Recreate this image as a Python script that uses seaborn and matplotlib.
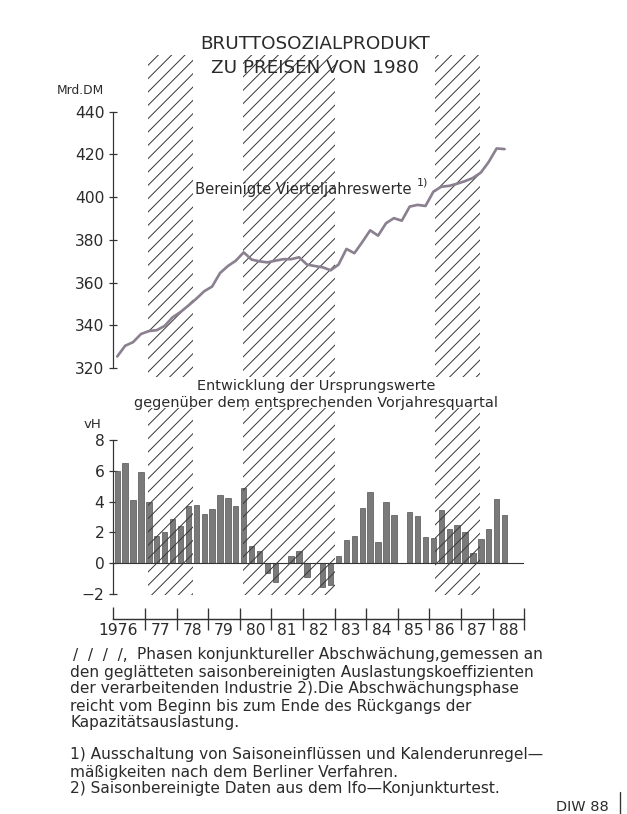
import matplotlib
matplotlib.use("Agg")
import matplotlib.pyplot as plt
from matplotlib.lines import Line2D
import matplotlib.lines as mlines
import pandas as pd
import seaborn as sns

# ---------------- data ----------------
years = list(range(1976, 1989))
year_labels = ["1976", "77", "78", "79", "80", "81", "82", "83", "84", "85", "86", "87", "88"]

# Bruttosozialprodukt, bereinigte Vierteljahreswerte (Mrd. DM), 1976Q1 .. 1988Q2
gnp = [325.5, 330.5, 332.2, 336.0, 337.4, 337.8, 339.8, 343.8, 346.3, 349.3,
       352.5, 356.0, 358.2, 364.5, 367.8, 370.3, 374.2, 370.8, 370.0, 369.5,
       370.3, 371.0, 371.0, 371.9, 368.5, 367.8, 367.2, 365.8, 368.5, 375.8,
       373.8, 379.0, 384.5, 382.0, 387.8, 390.2, 389.0, 395.6, 396.4, 395.9,
       402.6, 404.9, 405.3, 406.3, 407.5, 409.0, 411.5, 416.5, 422.8, 422.5]

# Veraenderung gegenueber Vorjahresquartal (vH), 1976Q1 .. 1988Q2
growth = [6.0, 6.5, 4.1, 5.9,
          4.0, 1.8, 2.0, 2.9,
          2.4, 3.7, 3.8, 3.2,
          3.5, 4.4, 4.2, 3.7,
          4.9, 1.1, 0.8, -0.6,
          -1.2, 0.0, 0.5, 0.8,
          -0.9, 0.0, -1.5, -1.4,
          0.5, 1.5, 1.8, 3.6,
          4.6, 1.35, 3.95, 3.15,
          0.05, 3.3, 3.05, 1.7,
          1.65, 3.45, 2.2, 2.5,
          2.05, 0.65, 1.6, 2.25,
          4.15, 3.15]

# Phasen konjunktureller Abschwaechung (Beginn, Ende)
phase_start = [1977.10, 1980.10, 1986.17]
phase_end = [1978.52, 1983.00, 1987.60]

gnp_ticks = [320, 340, 360, 380, 400, 420, 440]
growth_ticks = [-2, 0, 2, 4, 6, 8]

# ---------------- table ----------------
n = len(gnp)
q_year = [1976 + i // 4 for i in range(n)]
q_num = [i % 4 + 1 for i in range(n)]
pos = [y + (q - 0.5) / 4 for y, q in zip(q_year, q_num)]
df = pd.DataFrame({"pos": pos, "gnp": gnp, "growth": growth})

# ---------------- style ----------------
sns.set_theme(style="white")
plt.rcParams["font.family"] = ["DejaVu Sans"]
plt.rcParams["hatch.linewidth"] = 0.9
plt.rcParams["hatch.color"] = "#3a3a3a"

TXT = "#2b2b2b"
AX = "#333333"
LINE = "#8a8090"
BAR = "#7a7a7a"
BAREDGE = "#4e4e4e"
HATCH = "#3a3a3a"

W, H, DPI = 627, 814, 80
fig = plt.figure(figsize=(W / DPI, H / DPI), dpi=DPI)
fig.patch.set_facecolor("white")


def ftext(px, py, s, **kw):
    kw.setdefault("color", TXT)
    return fig.text(px / W, 1 - py / H, s, **kw)


x0, x1 = 113.3, 524.3
left = x0 / W
width = (x1 - x0) / W

# upper panel
ax1 = fig.add_axes([left, 1 - 377 / H, width, (377 - 55) / H])
# lower panel
ax2 = fig.add_axes([left, 1 - 595 / H, width, (595 - 408) / H])

for ax in (ax1, ax2):
    ax.set_facecolor("none")
    for s, e in zip(phase_start, phase_end):
        ax.axvspan(s, e, facecolor="none", edgecolor=HATCH, hatch="//",
                   linewidth=0, zorder=3)

# line
sns.lineplot(data=df, x="pos", y="gnp", ax=ax1, color=LINE, linewidth=2.4,
             zorder=4)
ax1.set_xlim(1976, 1989)
ax1.set_ylim(315.9, 466.5)
ax1.set_xlabel("")
ax1.set_ylabel("")
ax1.set_xticks([])
ax1.set_yticks(gnp_ticks)
ax1.set_yticklabels([str(t) for t in gnp_ticks])
for sp in ("top", "right", "bottom"):
    ax1.spines[sp].set_visible(False)
ax1.spines["left"].set_bounds(320, 440)
ax1.spines["left"].set_color(AX)
ax1.spines["left"].set_linewidth(1.1)
ax1.tick_params(axis="y", direction="inout", length=7, width=1.1, color=AX,
                labelsize=14, labelcolor=TXT, pad=4.5, left=True)

ax1.text(1978.59, 403.4, "Bereinigte Vierteljahreswerte", fontsize=13.3,
         color=TXT, ha="left", va="center", zorder=5)
ax1.text(1985.6, 407.0, "1)", fontsize=10, color=TXT, ha="left",
         va="center", zorder=5)

# bars
sns.barplot(data=df, x="pos", y="growth", ax=ax2, native_scale=True,
            width=0.68, color=BAR, edgecolor=BAREDGE, linewidth=0.6,
            saturation=1, errorbar=None, zorder=2)
ax2.axhline(0, color=AX, linewidth=1.0, zorder=2.5)
ax2.set_xlim(1976, 1989)
ax2.set_ylim(-2.05, 10.06)
ax2.set_xlabel("")
ax2.set_ylabel("")
ax2.set_yticks(growth_ticks)
ax2.set_yticklabels([str(t).replace("-", "\u2212") for t in growth_ticks])
for sp in ("top", "right"):
    ax2.spines[sp].set_visible(False)
ax2.spines["left"].set_bounds(-2, 8)
ax2.spines["left"].set_color(AX)
ax2.spines["left"].set_linewidth(1.1)
ax2.tick_params(axis="y", direction="inout", length=7, width=1.1, color=AX,
                labelsize=14, labelcolor=TXT, pad=4.5, left=True)

ax2.spines["bottom"].set_position(("outward", 24 * 72 / DPI))
ax2.spines["bottom"].set_bounds(1976, 1989)
ax2.spines["bottom"].set_color(AX)
ax2.spines["bottom"].set_linewidth(1.3)
boundaries = years + [1989]
ax2.set_xticks(boundaries)
ax2.set_xticklabels([""] * len(boundaries))
mids = [y + 0.5 for y in years]
mids[0] = 1976.16
ax2.set_xticks(mids, minor=True)
ax2.set_xticklabels(year_labels, minor=True)
ax2.tick_params(axis="x", which="major", direction="inout", length=20,
                width=1.2, color=AX, bottom=True)
ax2.tick_params(axis="x", which="minor", length=0, pad=4, labelsize=14,
                labelcolor=TXT, bottom=True)
first = ax2.xaxis.get_major_ticks()[0]
first.tick1line.set_marker(mlines.TICKUP)
first.tick1line.set_markersize(11)

# ---------------- texts ----------------
ftext(315, 44, "BRUTTOSOZIALPRODUKT", fontsize=16.5, ha="center", va="center")
ftext(315, 68, "ZU PREISEN VON 1980", fontsize=16.5, ha="center", va="center")
ftext(80, 90, "Mrd.DM", fontsize=11, ha="center", va="center")
ftext(316, 386, "Entwicklung der Ursprungswerte", fontsize=13,
      ha="center", va="center")
ftext(316, 403, "gegenüber dem entsprechenden Vorjahresquartal", fontsize=13,
      ha="center", va="center")
ftext(93, 424, "vH", fontsize=12, ha="center", va="center")

fn = 13.8
ftext(73, 655, "/  /  /  /,", fontsize=fn, ha="left", va="center")
ftext(137, 655, "Phasen konjunktureller Abschwächung,gemessen an",
      fontsize=fn, ha="left", va="center")
lines = [
    (672, "den geglätteten saisonbereinigten Auslastungskoeffizienten"),
    (689, "der verarbeitenden Industrie 2).Die Abschwächungsphase"),
    (706, "reicht vom Beginn bis zum Ende des Rückgangs der"),
    (723, "Kapazitätsauslastung."),
    (755, "1) Ausschaltung von Saisoneinflüssen und Kalenderunregel\u2014"),
    (772, "mäßigkeiten nach dem Berliner Verfahren."),
    (789, "2) Saisonbereinigte Daten aus dem Ifo\u2014Konjunkturtest."),
]
for py, s in lines:
    ftext(70, py, s, fontsize=fn, ha="left", va="center")
ftext(609, 807, "DIW 88", fontsize=13, ha="right", va="center")

fig.add_artist(Line2D([620 / W, 620 / W], [1 - 792 / H, 0], transform=fig.transFigure,
                      color=AX, linewidth=1.2))

fig.savefig("out.png", dpi=DPI, facecolor="white")
